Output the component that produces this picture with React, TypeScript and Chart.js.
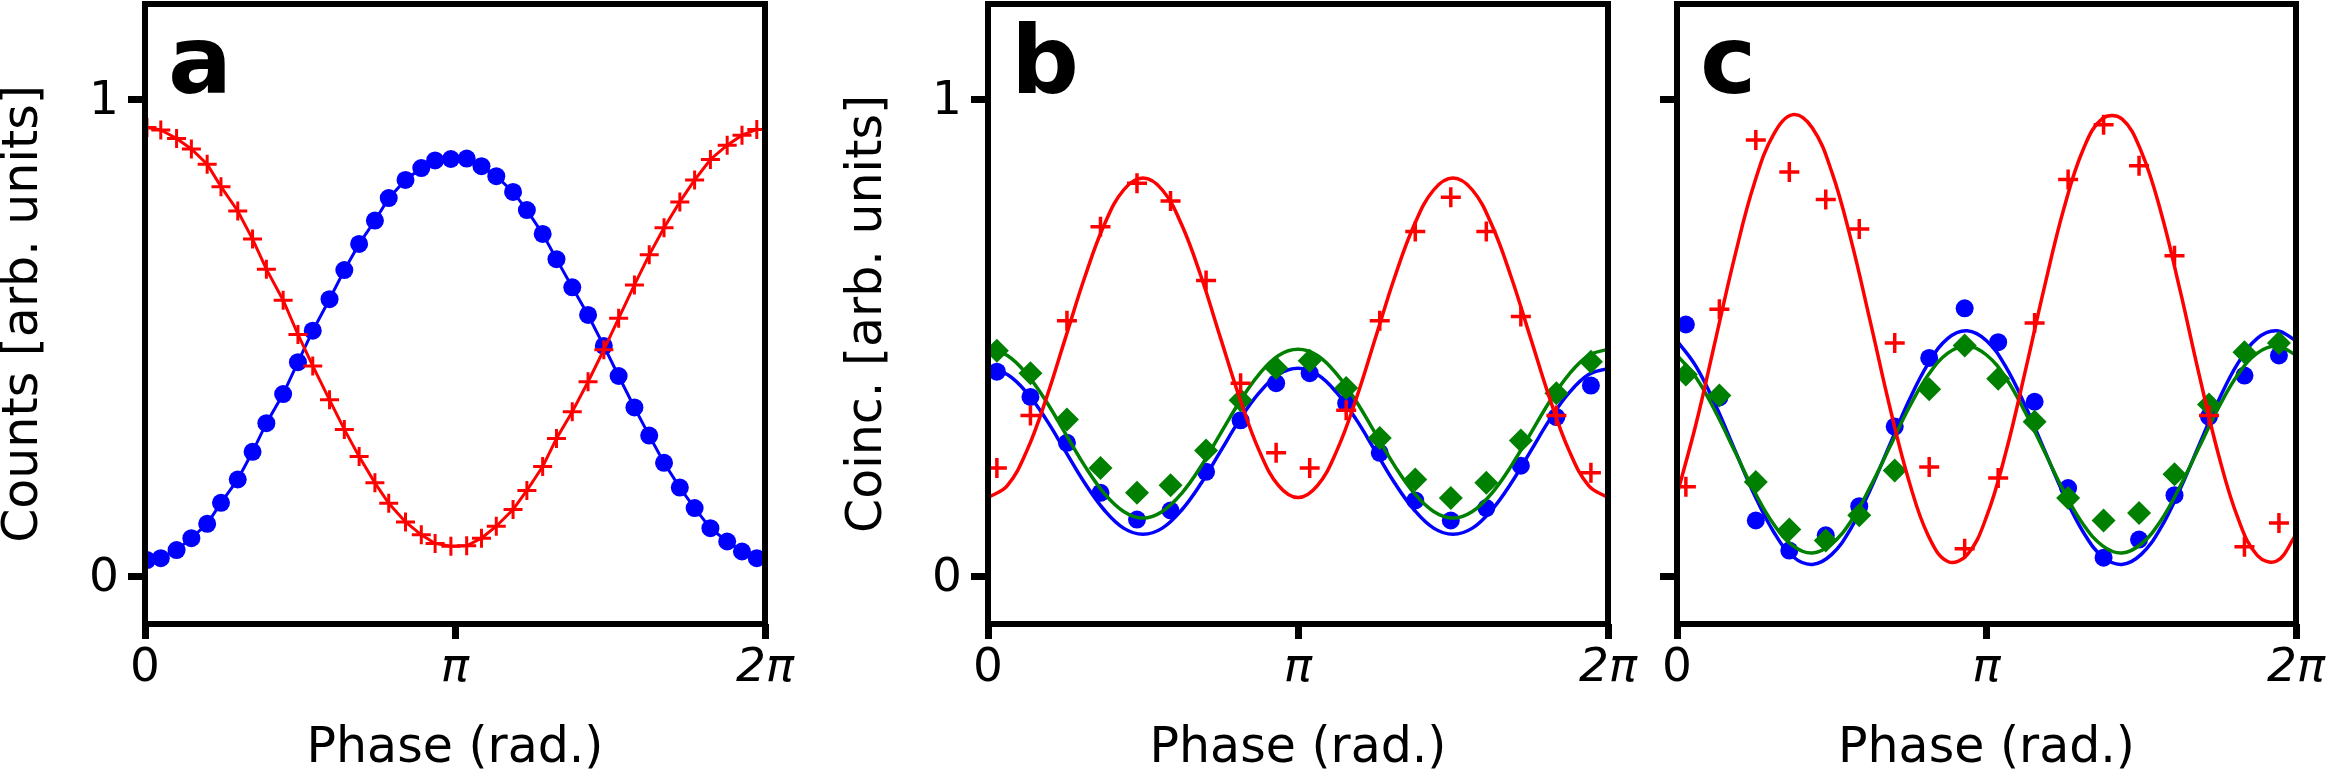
import { useEffect, useRef } from 'react';
import { Chart, registerables } from 'chart.js';

Chart.register(...registerables);

const FONT = 'DejaVu Sans';
const RED = '#ff0000';
const BLUE = '#0000ff';
const GREEN = '#008000';

// axes
const X_TICKS = [0, Math.PI, 2 * Math.PI];
const X_TICK_LABELS = ['0', 'π', '2π'];
const Y_TICKS = [0, 1];
const Y_TICK_LABELS = ['0', '1'];

// panel a - single counts, 41 phase settings
const PHASE_A = [0.02, 0.16, 0.32, 0.47, 0.63, 0.77, 0.94, 1.09, 1.23, 1.40, 1.55, 1.70, 1.87, 2.02, 2.17, 2.33, 2.47, 2.64, 2.80, 2.94, 3.10, 3.26, 3.41, 3.56, 3.73, 3.87, 4.03, 4.17, 4.33, 4.49, 4.65, 4.80, 4.96, 5.11, 5.26, 5.42, 5.57, 5.73, 5.90, 6.05, 6.20];
const RED_A = [0.941, 0.936, 0.918, 0.896, 0.864, 0.817, 0.766, 0.707, 0.644, 0.579, 0.507, 0.441, 0.370, 0.308, 0.251, 0.196, 0.153, 0.114, 0.087, 0.069, 0.063, 0.064, 0.080, 0.105, 0.140, 0.180, 0.230, 0.289, 0.345, 0.408, 0.475, 0.541, 0.611, 0.674, 0.731, 0.785, 0.831, 0.874, 0.904, 0.925, 0.937];
const BLUE_A = [0.034, 0.038, 0.055, 0.080, 0.110, 0.154, 0.203, 0.261, 0.321, 0.382, 0.449, 0.515, 0.581, 0.642, 0.697, 0.746, 0.793, 0.831, 0.856, 0.872, 0.875, 0.876, 0.860, 0.839, 0.806, 0.768, 0.718, 0.665, 0.606, 0.548, 0.483, 0.420, 0.354, 0.295, 0.238, 0.186, 0.143, 0.101, 0.073, 0.052, 0.038];

// panels b and c - coincidences, 18 phase settings
const PHASE_BC = [0.09, 0.43, 0.80, 1.14, 1.51, 1.85, 2.21, 2.56, 2.92, 3.26, 3.63, 3.97, 4.33, 4.69, 5.05, 5.40, 5.76, 6.11];
const RED_B = [0.227, 0.337, 0.536, 0.733, 0.824, 0.787, 0.620, 0.405, 0.259, 0.227, 0.348, 0.536, 0.723, 0.795, 0.723, 0.545, 0.337, 0.217];
const BLUE_B = [0.429, 0.376, 0.280, 0.175, 0.119, 0.138, 0.219, 0.327, 0.405, 0.426, 0.363, 0.259, 0.159, 0.117, 0.143, 0.232, 0.334, 0.400];
const GREEN_B = [0.473, 0.426, 0.329, 0.227, 0.175, 0.191, 0.264, 0.369, 0.437, 0.452, 0.395, 0.290, 0.203, 0.164, 0.196, 0.285, 0.384, 0.450];
const RED_C = [0.188, 0.560, 0.915, 0.848, 0.790, 0.728, 0.489, 0.229, 0.058, 0.206, 0.531, 0.832, 0.947, 0.861, 0.672, 0.337, 0.062, 0.112];
const BLUE_C = [0.528, 0.375, 0.117, 0.054, 0.086, 0.147, 0.314, 0.458, 0.562, 0.491, 0.366, 0.185, 0.039, 0.077, 0.170, 0.335, 0.421, 0.463];
const GREEN_C = [0.423, 0.379, 0.198, 0.098, 0.075, 0.128, 0.222, 0.392, 0.484, 0.414, 0.324, 0.164, 0.117, 0.133, 0.214, 0.360, 0.470, 0.489];

// fitted curves, read every pi/16
const FIT_X = [0, 0.196, 0.393, 0.589, 0.785, 0.982, 1.178, 1.374, 1.571, 1.767, 1.963, 2.160, 2.356, 2.553, 2.749, 2.945, 3.142, 3.338, 3.534, 3.731, 3.927, 4.123, 4.320, 4.516, 4.712, 4.909, 5.105, 5.301, 5.498, 5.694, 5.890, 6.087, 6.283];
const RED_B_FIT = [0.165, 0.190, 0.263, 0.372, 0.500, 0.628, 0.737, 0.810, 0.835, 0.810, 0.737, 0.628, 0.500, 0.372, 0.263, 0.190, 0.165, 0.190, 0.263, 0.372, 0.500, 0.628, 0.737, 0.810, 0.835, 0.810, 0.737, 0.628, 0.500, 0.372, 0.263, 0.190, 0.165];
const BLUE_B_FIT = [0.436, 0.423, 0.385, 0.329, 0.262, 0.195, 0.139, 0.101, 0.088, 0.101, 0.139, 0.195, 0.262, 0.329, 0.385, 0.423, 0.436, 0.423, 0.385, 0.329, 0.262, 0.195, 0.139, 0.101, 0.088, 0.101, 0.139, 0.195, 0.262, 0.329, 0.385, 0.423, 0.436];
const GREEN_B_FIT = [0.476, 0.463, 0.424, 0.367, 0.299, 0.231, 0.174, 0.136, 0.122, 0.136, 0.174, 0.231, 0.299, 0.367, 0.424, 0.463, 0.476, 0.463, 0.424, 0.367, 0.299, 0.231, 0.174, 0.136, 0.122, 0.136, 0.174, 0.231, 0.299, 0.367, 0.424, 0.463, 0.476];
const RED_C_FIT = [0.171, 0.322, 0.498, 0.673, 0.824, 0.927, 0.968, 0.940, 0.848, 0.705, 0.533, 0.355, 0.199, 0.084, 0.031, 0.045, 0.125, 0.260, 0.429, 0.608, 0.771, 0.895, 0.960, 0.959, 0.891, 0.766, 0.601, 0.422, 0.254, 0.122, 0.044, 0.032, 0.087];
const BLUE_C_FIT = [0.494, 0.439, 0.358, 0.264, 0.171, 0.093, 0.041, 0.025, 0.046, 0.101, 0.182, 0.276, 0.369, 0.447, 0.499, 0.515, 0.494, 0.439, 0.358, 0.264, 0.171, 0.093, 0.041, 0.025, 0.046, 0.101, 0.182, 0.276, 0.369, 0.447, 0.499, 0.515, 0.494];
const GREEN_C_FIT = [0.464, 0.416, 0.344, 0.261, 0.178, 0.109, 0.064, 0.049, 0.068, 0.116, 0.188, 0.271, 0.354, 0.423, 0.468, 0.483, 0.464, 0.416, 0.344, 0.261, 0.178, 0.109, 0.064, 0.049, 0.068, 0.116, 0.188, 0.271, 0.354, 0.423, 0.468, 0.483, 0.464];

const HEIGHT = 781;

const pts = (xs: number[], ys: number[]) => xs.map((x, i) => ({ x, y: ys[i] }));

// frame on all four sides + panel letter
const panelDecor = {
  id: 'panelDecor',
  afterDatasetsDraw(chart: any, _args: any, opts: any) {
    const { ctx, chartArea } = chart;
    const { left, top, right, bottom } = chartArea;
    ctx.save();
    ctx.strokeStyle = '#000';
    ctx.lineWidth = 6;
    ctx.strokeRect(left, top, right - left, bottom - top);
    ctx.fillStyle = '#000';
    ctx.font = `bold 95px "${FONT}"`;
    ctx.textBaseline = 'alphabetic';
    ctx.textAlign = 'left';
    ctx.fillText(opts.letter, left + 23, top + 89);
    ctx.restore();
  },
};

const crosses = (xs: number[], ys: number[]) => ({
  data: pts(xs, ys),
  showLine: false,
  pointStyle: 'cross',
  pointRadius: 10,
  pointBorderColor: RED,
  pointBorderWidth: 3.5,
});

const dots = (xs: number[], ys: number[]) => ({
  data: pts(xs, ys),
  showLine: false,
  pointStyle: 'circle',
  pointRadius: 9,
  pointBackgroundColor: BLUE,
  pointBorderWidth: 0,
});

const diamonds = (xs: number[], ys: number[]) => ({
  data: pts(xs, ys),
  showLine: false,
  pointStyle: 'rectRot',
  pointRadius: 12,
  pointBackgroundColor: GREEN,
  pointBorderWidth: 0,
});

const fit = (ys: number[], color: string) => ({
  data: pts(FIT_X, ys),
  borderColor: color,
  borderWidth: 3.5,
  pointRadius: 0,
  tension: 0.4,
});

interface PanelProps {
  left: number;
  width: number;
  axisWidth: number;
  padRight: number;
  letter: string;
  yTitle?: string;
  yTitlePad?: number;
  yLabels: boolean;
  datasets: any[];
}

function Panel({ left, width, axisWidth, padRight, letter, yTitle, yTitlePad = 0, yLabels, datasets }: PanelProps) {
  const canvasRef = useRef<HTMLCanvasElement>(null);

  useEffect(() => {
    if (!canvasRef.current) return;
    const chart = new Chart(canvasRef.current, {
      type: 'line',
      data: { datasets },
      options: {
        animation: false,
        responsive: false,
        devicePixelRatio: 1,
        events: [],
        layout: { autoPadding: false, padding: { left: 0, top: 4, right: padRight, bottom: 0 } },
        plugins: {
          legend: { display: false },
          tooltip: { enabled: false },
          panelDecor: { letter },
        } as any,
        scales: {
          x: {
            type: 'linear',
            min: 0,
            max: 2 * Math.PI,
            afterBuildTicks: (s: any) => {
              s.ticks = X_TICKS.map((value) => ({ value }));
            },
            afterFit: (s: any) => {
              s.height = 157;
              s.paddingLeft = 0;
              s.paddingRight = 0;
            },
            ticks: {
              autoSkip: false,
              maxRotation: 0,
              padding: 1.5,
              color: '#000',
              font: (c: any) => ({
                family: FONT,
                size: 47,
                lineHeight: 1.2,
                style: X_TICK_LABELS[c.index]?.includes('π') ? 'italic' : 'normal',
              }),
              callback: (_v: any, i: number) => X_TICK_LABELS[i],
            },
            grid: { drawOnChartArea: false, drawTicks: true, tickLength: 15, tickWidth: 7, tickColor: '#000' },
            border: { display: false },
            title: {
              display: true,
              text: 'Phase (rad.)',
              color: '#000',
              font: { family: FONT, size: 49, lineHeight: 1 },
              padding: { top: 0, bottom: 6.8 },
            },
          },
          y: {
            type: 'linear',
            min: -0.1,
            max: 1.2,
            afterBuildTicks: (s: any) => {
              s.ticks = Y_TICKS.map((value) => ({ value }));
            },
            afterFit: (s: any) => {
              s.width = axisWidth;
              s.paddingTop = 0;
              s.paddingBottom = 0;
            },
            ticks: {
              padding: 9,
              labelOffset: 2,
              color: '#000',
              font: { family: FONT, size: 47, lineHeight: 1.2 },
              callback: (_v: any, i: number) => (yLabels ? Y_TICK_LABELS[i] : ''),
            },
            grid: { drawOnChartArea: false, drawTicks: true, tickLength: 17, tickWidth: 7, tickColor: '#000' },
            border: { display: false },
            title: {
              display: !!yTitle,
              text: yTitle || '',
              color: '#000',
              font: { family: FONT, size: 49, lineHeight: 1 },
              padding: { top: yTitlePad, bottom: 0 },
            },
          },
        },
      },
      plugins: [panelDecor],
    });

    return () => {
      chart.destroy();
    };
  }, []);

  return (
    <canvas
      ref={canvasRef}
      width={width}
      height={HEIGHT}
      style={{ position: 'absolute', left, top: 0, width, height: HEIGHT }}
    />
  );
}

export default function App() {
  const datasetsA = [
    { ...crosses(PHASE_A, RED_A), showLine: true, borderColor: RED, borderWidth: 3, pointBorderWidth: 3, pointRadius: 9.5 },
    { ...dots(PHASE_A, BLUE_A), showLine: true, borderColor: BLUE, borderWidth: 3 },
  ];
  const datasetsB = [
    fit(RED_B_FIT, RED),
    crosses(PHASE_BC, RED_B),
    fit(GREEN_B_FIT, GREEN),
    diamonds(PHASE_BC, GREEN_B),
    fit(BLUE_B_FIT, BLUE),
    dots(PHASE_BC, BLUE_B),
  ];
  const datasetsC = [
    fit(RED_C_FIT, RED),
    crosses(PHASE_BC, RED_C),
    fit(GREEN_C_FIT, GREEN),
    diamonds(PHASE_BC, GREEN_C),
    fit(BLUE_C_FIT, BLUE),
    dots(PHASE_BC, BLUE_C),
  ];

  return (
    <div style={{ position: 'absolute', left: 0, top: 0, width: 2334, height: HEIGHT, background: '#fff' }}>
      <Panel left={0} width={800} axisWidth={145} padRight={35} letter="a" yTitle="Counts [arb. units]" yTitlePad={0} yLabels datasets={datasetsA} />
      <Panel left={800} width={840} axisWidth={188} padRight={32} letter="b" yTitle="Coinc. [arb. units]" yTitlePad={43.8} yLabels datasets={datasetsB} />
      <Panel left={1640} width={694} axisWidth={37} padRight={38} letter="c" yLabels={false} datasets={datasetsC} />
    </div>
  );
}
